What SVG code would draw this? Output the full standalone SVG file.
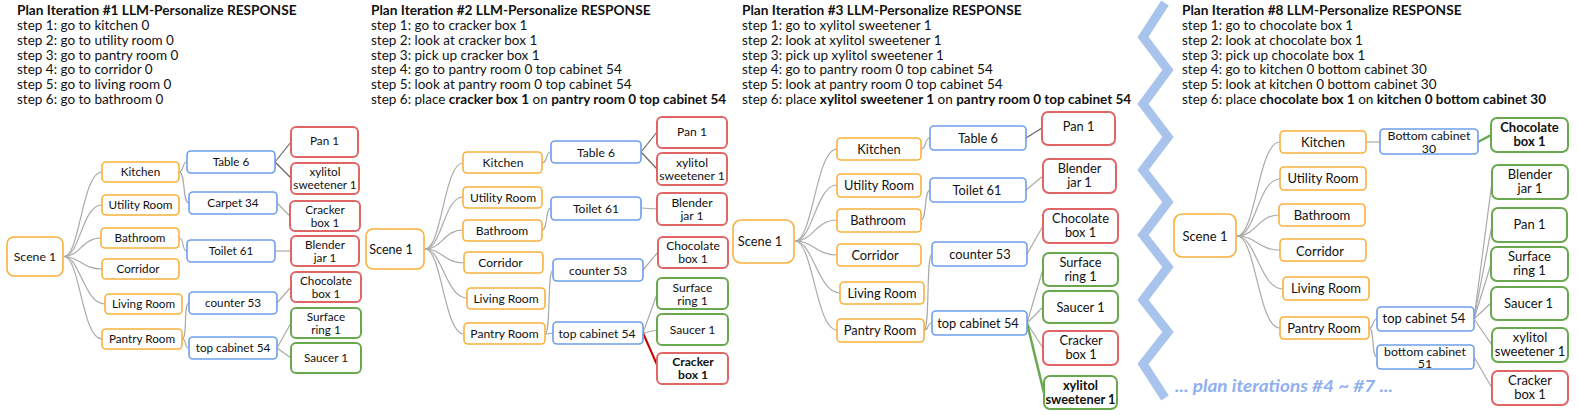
<svg xmlns="http://www.w3.org/2000/svg" width="1578" height="415" viewBox="0 0 1578 415">
<style>
text{font-family:"Lato","Noto Sans",sans-serif;fill:#111}
.ttl{font-weight:bold;font-size:13.7px}
.st{font-size:13.5px}
.b{font-weight:bold}
.n text{text-anchor:middle}
.o rect{fill:#fff;stroke:#f9b13c;stroke-width:1.6}
.u rect{fill:#fff;stroke:#6d9eeb;stroke-width:1.6}
.r rect{fill:#fff;stroke:#e06666;stroke-width:2}
.g rect{fill:#fff;stroke:#6aa84f;stroke-width:2}
.cn path{fill:none;stroke:#aaa;stroke-width:1.2}
.cn path.dk{stroke:#666}
.cn path.red{stroke:#cc0000;stroke-width:2}
.cn path.grn{stroke:#6aa84f;stroke-width:2.5}
.p1{font-size:11.7px}.p2{font-size:12.1px}.p3{font-size:12.8px}.p4{font-size:13px}
</style>

<!-- headers -->
<g id="header1">
<text class="ttl" x="17" y="15">Plan Iteration #1 LLM-Personalize RESPONSE</text>
<text class="st" x="17" y="30">step 1: go to kitchen 0</text>
<text class="st" x="17" y="44.7">step 2: go to utility room 0</text>
<text class="st" x="17" y="59.5">step 3: go to pantry room 0</text>
<text class="st" x="17" y="74.2">step 4: go to corridor 0</text>
<text class="st" x="17" y="89">step 5: go to living room 0</text>
<text class="st" x="17" y="103.7">step 6: go to bathroom 0</text>
</g>
<g id="header2">
<text class="ttl" x="371" y="15">Plan Iteration #2 LLM-Personalize RESPONSE</text>
<text class="st" x="371" y="30">step 1: go to cracker box 1</text>
<text class="st" x="371" y="44.7">step 2: look at cracker box 1</text>
<text class="st" x="371" y="59.5">step 3: pick up cracker box 1</text>
<text class="st" x="371" y="74.2">step 4: go to pantry room 0 top cabinet 54</text>
<text class="st" x="371" y="89">step 5: look at pantry room 0 top cabinet 54</text>
<text class="st" x="371" y="103.7">step 6: place <tspan class="b">cracker box 1</tspan> on <tspan class="b">pantry room 0 top cabinet 54</tspan></text>
</g>
<g id="header3">
<text class="ttl" x="742" y="15">Plan Iteration #3 LLM-Personalize RESPONSE</text>
<text class="st" x="742" y="30">step 1: go to xylitol sweetener 1</text>
<text class="st" x="742" y="44.7">step 2: look at xylitol sweetener 1</text>
<text class="st" x="742" y="59.5">step 3: pick up xylitol sweetener 1</text>
<text class="st" x="742" y="74.2">step 4: go to pantry room 0 top cabinet 54</text>
<text class="st" x="742" y="89">step 5: look at pantry room 0 top cabinet 54</text>
<text class="st" x="742" y="103.7">step 6: place <tspan class="b">xylitol sweetener 1</tspan> on <tspan class="b">pantry room 0 top cabinet 54</tspan></text>
</g>
<g id="header4">
<text class="ttl" x="1182" y="15">Plan Iteration #8 LLM-Personalize RESPONSE</text>
<text class="st" x="1182" y="30">step 1: go to chocolate box 1</text>
<text class="st" x="1182" y="44.7">step 2: look at chocolate box 1</text>
<text class="st" x="1182" y="59.5">step 3: pick up chocolate box 1</text>
<text class="st" x="1182" y="74.2">step 4: go to kitchen 0 bottom cabinet 30</text>
<text class="st" x="1182" y="89">step 5: look at kitchen 0 bottom cabinet 30</text>
<text class="st" x="1182" y="103.7">step 6: place <tspan class="b">chocolate box 1</tspan> on <tspan class="b">kitchen 0 bottom cabinet 30</tspan></text>
</g>

<!-- zigzag separator -->
<g id="separator">
<polyline points="1165,3 1143,37 1168,70 1143,104 1168,137 1143,170 1168,202 1143,235 1168,267 1143,300 1168,332 1143,364 1165,398" fill="none" stroke="#a9c4ec" stroke-width="9" stroke-linejoin="miter"/>
<text x="1175" y="392" textLength="218" lengthAdjust="spacingAndGlyphs" style="font-size:17px;font-weight:bold;font-style:italic;fill:#8fb0f0">... plan iterations #4 ~ #7 ...</text>
</g>

<!-- connectors -->
<g id="connectors" class="cn">
<!-- panel 1 -->
<path d="M64,256.5 C80,256.5 82,172 102,172"/>
<path d="M64,256.5 C80,256.5 82,205 102,205"/>
<path d="M64,256.5 C80,256.5 82,238 101,238"/>
<path d="M64,256.5 C80,256.5 82,269 102,269"/>
<path d="M64,256.5 C80,256.5 84,304 105,304"/>
<path d="M64,256.5 C80,256.5 82,339 102,339"/>
<path d="M179,172 C184,172 182,162 187,162"/>
<path d="M179,172 C186,172 182,203 189,203"/>
<path d="M179,238 C185,238 181,251 187,251"/>
<path d="M182,339 C188,339 183,303 189,303"/>
<path d="M182,339 C188,339 183,348 189,348"/>
<path class="dk" d="M275,162 L291,142"/>
<path class="dk" d="M275,162 L291,178"/>
<path d="M277,203 L290,216"/>
<path d="M275,251 L291,251"/>
<path d="M277,303 L291,287"/>
<path d="M277,348 L291,323"/>
<path d="M277,348 L291,358"/>
<!-- panel 2 -->
<path d="M425,249 C442,249 444,163 463,163"/>
<path d="M425,249 C442,249 444,197 463,197"/>
<path d="M425,249 C442,249 444,230 463,230"/>
<path d="M425,249 C442,249 444,263 464,263"/>
<path d="M425,249 C442,249 446,298 467,298"/>
<path d="M425,249 C442,249 444,334 464,334"/>
<path d="M542,163 C548,163 545,152 551,152"/>
<path d="M542,230 C548,230 545,208 551,208"/>
<path d="M545,334 C551,334 547,270 553,270"/>
<path d="M545,334 C551,334 547,333 553,333"/>
<path class="dk" d="M641,152 L657,132"/>
<path class="dk" d="M641,152 L657,169"/>
<path d="M641,208 L657,209"/>
<path d="M643,270 L658,252"/>
<path d="M643,333 L657,294"/>
<path d="M643,333 L657,330"/>
<path class="red" d="M643,333 L658,367"/>
<!-- panel 3 -->
<path d="M795,241 C813,241 816,149 837,149"/>
<path d="M795,241 C813,241 816,185 837,185"/>
<path d="M795,241 C813,241 816,220 837,220"/>
<path d="M795,241 C813,241 816,255 837,255"/>
<path d="M795,241 C813,241 818,293 840,293"/>
<path d="M795,241 C813,241 816,330 837,330"/>
<path d="M921,149 C927,149 924,138 930,138"/>
<path d="M921,220 C927,220 924,190 930,190"/>
<path d="M924,330 C930,330 926,254 932,254"/>
<path d="M924,330 C930,330 926,323 932,323"/>
<path class="dk" d="M1026,138 L1042,128"/>
<path d="M1026,190 L1043,176"/>
<path d="M1027,254 L1043,226"/>
<path d="M1027,323 L1043,269"/>
<path d="M1027,323 L1043,307"/>
<path d="M1027,323 L1043,348"/>
<path class="grn" d="M1027,323 L1044,393"/>
<!-- panel 4 -->
<path d="M1237,236 C1256,236 1258,142 1280,142"/>
<path d="M1237,236 C1256,236 1258,179 1280,179"/>
<path d="M1237,236 C1256,236 1258,215 1279,215"/>
<path d="M1237,236 C1256,236 1258,250 1280,250"/>
<path d="M1237,236 C1256,236 1260,289 1283,289"/>
<path d="M1237,236 C1256,236 1258,328 1280,328"/>
<path d="M1366,142 L1380,142"/>
<path d="M1369,328 C1374,328 1372,319 1377,319"/>
<path d="M1369,328 C1375,328 1371,357 1377,357"/>
<path class="grn" d="M1478,142 L1491,135"/>
<path d="M1474,319 L1492,182"/>
<path d="M1474,319 L1492,225"/>
<path d="M1474,319 L1491,264"/>
<path d="M1474,319 L1491,303"/>
<path d="M1474,319 L1492,345"/>
<path d="M1474,357 L1492,388"/>
</g>

<!-- ===== panel 1 nodes ===== -->
<g class="n p1">
<g id="p1-scene" class="o"><rect x="7" y="237" width="56" height="39" rx="7"/><text x="35" y="260.5" style="font-size:12.3px">Scene 1</text></g>
<g id="p1-kitchen" class="o"><rect x="102" y="162" width="77" height="20" rx="4"/><text x="140.5" y="176">Kitchen</text></g>
<g id="p1-utility" class="o"><rect x="102" y="195" width="77" height="20" rx="4"/><text x="140.5" y="209">Utility Room</text></g>
<g id="p1-bathroom" class="o"><rect x="101" y="228" width="78" height="20" rx="4"/><text x="140" y="242">Bathroom</text></g>
<g id="p1-corridor" class="o"><rect x="102" y="259" width="77" height="20" rx="4"/><text x="138" y="273">Corridor</text></g>
<g id="p1-living" class="o"><rect x="105" y="294" width="77" height="20" rx="4"/><text x="143.5" y="308">Living Room</text></g>
<g id="p1-pantry" class="o"><rect x="102" y="329" width="80" height="20" rx="4"/><text x="142" y="343">Pantry Room</text></g>
<g id="p1-table6" class="u"><rect x="187" y="151" width="88" height="22" rx="4"/><text x="231" y="166">Table 6</text></g>
<g id="p1-carpet34" class="u"><rect x="189" y="192" width="88" height="22" rx="4"/><text x="233" y="207">Carpet 34</text></g>
<g id="p1-toilet61" class="u"><rect x="187" y="240" width="88" height="22" rx="4"/><text x="231" y="255">Toilet 61</text></g>
<g id="p1-counter53" class="u"><rect x="189" y="292" width="88" height="22" rx="4"/><text x="233" y="307">counter 53</text></g>
<g id="p1-topcab54" class="u"><rect x="189" y="337" width="88" height="22" rx="4"/><text x="233" y="352">top cabinet 54</text></g>
<g id="p1-pan1" class="r"><rect x="291" y="127" width="67" height="30" rx="5"/><text x="324.5" y="145">Pan 1</text></g>
<g id="p1-xylitol" class="r"><rect x="291" y="163" width="68" height="31" rx="5"/><text x="325" y="176">xylitol</text><text x="325" y="189">sweetener 1</text></g>
<g id="p1-cracker" class="r"><rect x="290" y="201" width="70" height="30" rx="5"/><text x="325" y="214">Cracker</text><text x="325" y="227">box 1</text></g>
<g id="p1-blender" class="r"><rect x="291" y="236" width="68" height="30" rx="5"/><text x="325" y="249">Blender</text><text x="325" y="262">jar 1</text></g>
<g id="p1-chocolate" class="r"><rect x="291" y="272" width="70" height="30" rx="5"/><text x="326" y="284.5">Chocolate</text><text x="326" y="297.5">box 1</text></g>
<g id="p1-surface" class="g"><rect x="291" y="308" width="70" height="30" rx="5"/><text x="326" y="321">Surface</text><text x="326" y="334">ring 1</text></g>
<g id="p1-saucer" class="g"><rect x="291" y="343" width="70" height="30" rx="5"/><text x="326" y="362">Saucer 1</text></g>
</g>

<!-- ===== panel 2 nodes ===== -->
<g class="n p2">
<g id="p2-scene" class="o"><rect x="366" y="229" width="58" height="40" rx="7"/><text x="391" y="253.5" style="font-size:12.6px">Scene 1</text></g>
<g id="p2-kitchen" class="o"><rect x="463" y="152" width="79" height="21" rx="4"/><text x="503" y="167">Kitchen</text></g>
<g id="p2-utility" class="o"><rect x="463" y="187" width="79" height="21" rx="4"/><text x="503" y="202">Utility Room</text></g>
<g id="p2-bathroom" class="o"><rect x="463" y="220" width="79" height="21" rx="4"/><text x="502" y="235">Bathroom</text></g>
<g id="p2-corridor" class="o"><rect x="464" y="252" width="79" height="21" rx="4"/><text x="500.5" y="267">Corridor</text></g>
<g id="p2-living" class="o"><rect x="467" y="288" width="78" height="21" rx="4"/><text x="506" y="303">Living Room</text></g>
<g id="p2-pantry" class="o"><rect x="464" y="323" width="81" height="21" rx="4"/><text x="504.5" y="338">Pantry Room</text></g>
<g id="p2-table6" class="u"><rect x="551" y="141" width="90" height="22" rx="4"/><text x="596" y="156.5">Table 6</text></g>
<g id="p2-toilet61" class="u"><rect x="551" y="197" width="90" height="23" rx="4"/><text x="596" y="213">Toilet 61</text></g>
<g id="p2-counter53" class="u"><rect x="553" y="259" width="90" height="22" rx="4"/><text x="598" y="274.5">counter 53</text></g>
<g id="p2-topcab54" class="u"><rect x="553" y="322" width="90" height="22" rx="4"/><text x="597" y="337.5">top cabinet 54</text></g>
<g id="p2-pan1" class="r"><rect x="657" y="117" width="70" height="31" rx="5"/><text x="692" y="136">Pan 1</text></g>
<g id="p2-xylitol" class="r"><rect x="657" y="153" width="70" height="32" rx="5"/><text x="692" y="166.5">xylitol</text><text x="692" y="179.5">sweetener 1</text></g>
<g id="p2-blender" class="r"><rect x="657" y="193" width="70" height="32" rx="5"/><text x="692" y="206.5">Blender</text><text x="692" y="219.5">jar 1</text></g>
<g id="p2-chocolate" class="r"><rect x="658" y="237" width="70" height="31" rx="5"/><text x="693" y="250">Chocolate</text><text x="693" y="263">box 1</text></g>
<g id="p2-surface" class="g"><rect x="657" y="278" width="71" height="31" rx="5"/><text x="692.5" y="291.5">Surface</text><text x="692.5" y="304.5">ring 1</text></g>
<g id="p2-saucer" class="g"><rect x="657" y="314" width="71" height="31" rx="5"/><text x="692.5" y="334">Saucer 1</text></g>
<g id="p2-cracker" class="r"><rect x="657" y="353" width="71" height="31" rx="5"/><text class="b" x="693" y="366">Cracker</text><text class="b" x="693" y="379">box 1</text></g>
</g>

<!-- ===== panel 3 nodes ===== -->
<g class="n p3">
<g id="p3-scene" class="o"><rect x="733" y="220" width="61" height="43" rx="8"/><text x="760" y="246">Scene 1</text></g>
<g id="p3-kitchen" class="o"><rect x="837" y="138" width="84" height="22" rx="4"/><text x="879" y="153.5">Kitchen</text></g>
<g id="p3-utility" class="o"><rect x="837" y="174" width="84" height="23" rx="4"/><text x="879" y="190">Utility Room</text></g>
<g id="p3-bathroom" class="o"><rect x="837" y="209" width="84" height="23" rx="4"/><text x="878" y="225">Bathroom</text></g>
<g id="p3-corridor" class="o"><rect x="837" y="244" width="84" height="22" rx="4"/><text x="875" y="260">Corridor</text></g>
<g id="p3-living" class="o"><rect x="840" y="282" width="84" height="22" rx="4"/><text x="882" y="297.5">Living Room</text></g>
<g id="p3-pantry" class="o"><rect x="837" y="319" width="87" height="23" rx="4"/><text x="880" y="335">Pantry Room</text></g>
<g id="p3-table6" class="u"><rect x="930" y="126" width="96" height="24" rx="4"/><text x="978" y="142.5">Table 6</text></g>
<g id="p3-toilet61" class="u"><rect x="930" y="178" width="96" height="24" rx="4"/><text x="977" y="194.5">Toilet 61</text></g>
<g id="p3-counter53" class="u"><rect x="932" y="242" width="95" height="24" rx="4"/><text x="980" y="258.5">counter 53</text></g>
<g id="p3-topcab54" class="u"><rect x="932" y="311" width="95" height="24" rx="4"/><text x="978" y="327.5">top cabinet 54</text></g>
<g id="p3-pan1" class="r"><rect x="1042" y="112" width="73" height="33" rx="6"/><text x="1078.5" y="131">Pan 1</text></g>
<g id="p3-blender" class="r"><rect x="1043" y="159" width="73" height="34" rx="6"/><text x="1079.5" y="173">Blender</text><text x="1079.5" y="187">jar 1</text></g>
<g id="p3-chocolate" class="r"><rect x="1043" y="209" width="75" height="34" rx="6"/><text x="1080.5" y="222.5">Chocolate</text><text x="1080.5" y="236.5">box 1</text></g>
<g id="p3-surface" class="g"><rect x="1043" y="253" width="75" height="33" rx="6"/><text x="1080.5" y="267">Surface</text><text x="1080.5" y="281">ring 1</text></g>
<g id="p3-saucer" class="g"><rect x="1043" y="291" width="75" height="32" rx="6"/><text x="1080.5" y="312">Saucer 1</text></g>
<g id="p3-cracker" class="r"><rect x="1043" y="331" width="75" height="34" rx="6"/><text x="1081" y="345">Cracker</text><text x="1081" y="359">box 1</text></g>
<g id="p3-xylitol" class="g"><rect x="1044" y="376" width="73" height="33" rx="6"/><text class="b" x="1080.5" y="390">xylitol</text><text class="b" x="1080.5" y="404">sweetener 1</text></g>
</g>

<!-- ===== panel 4 nodes ===== -->
<g class="n p4">
<g id="p4-scene" class="o"><rect x="1174" y="214" width="62" height="43" rx="8"/><text x="1205" y="240.5">Scene 1</text></g>
<g id="p4-kitchen" class="o"><rect x="1280" y="131" width="86" height="22" rx="4"/><text x="1323" y="146.5">Kitchen</text></g>
<g id="p4-utility" class="o"><rect x="1280" y="167" width="86" height="23" rx="4"/><text x="1323" y="183">Utility Room</text></g>
<g id="p4-bathroom" class="o"><rect x="1279" y="204" width="86" height="22" rx="4"/><text x="1322" y="219.5">Bathroom</text></g>
<g id="p4-corridor" class="o"><rect x="1280" y="239" width="86" height="22" rx="4"/><text x="1320" y="256">Corridor</text></g>
<g id="p4-living" class="o"><rect x="1283" y="277" width="86" height="23" rx="4"/><text x="1326" y="293">Living Room</text></g>
<g id="p4-pantry" class="o"><rect x="1280" y="317" width="89" height="22" rx="4"/><text x="1324" y="332.5">Pantry Room</text></g>
<g id="p4-bottomcab30" class="u"><rect x="1380" y="129" width="98" height="25" rx="4"/><text x="1429" y="140" style="font-size:12.3px">Bottom cabinet</text><text x="1429" y="152.5" style="font-size:12.3px">30</text></g>
<g id="p4-topcab54" class="u"><rect x="1377" y="307" width="97" height="24" rx="4"/><text x="1424" y="323">top cabinet 54</text></g>
<g id="p4-bottomcab51" class="u"><rect x="1377" y="345" width="97" height="24" rx="4"/><text x="1425" y="355.5" style="font-size:12.3px">bottom cabinet</text><text x="1425" y="368" style="font-size:12.3px">51</text></g>
<g id="p4-chocolate" class="g"><rect x="1491" y="118" width="77" height="34" rx="6"/><text class="b" x="1529.5" y="132">Chocolate</text><text class="b" x="1529.5" y="146">box 1</text></g>
<g id="p4-blender" class="g"><rect x="1492" y="165" width="76" height="34" rx="6"/><text x="1530" y="179">Blender</text><text x="1530" y="193">jar 1</text></g>
<g id="p4-pan1" class="g"><rect x="1492" y="208" width="75" height="34" rx="6"/><text x="1529.5" y="229">Pan 1</text></g>
<g id="p4-surface" class="g"><rect x="1491" y="247" width="77" height="34" rx="6"/><text x="1529.5" y="261">Surface</text><text x="1529.5" y="275">ring 1</text></g>
<g id="p4-saucer" class="g"><rect x="1491" y="287" width="77" height="33" rx="6"/><text x="1528.5" y="308">Saucer 1</text></g>
<g id="p4-xylitol" class="g"><rect x="1492" y="328" width="76" height="34" rx="6"/><text x="1530" y="342">xylitol</text><text x="1530" y="356">sweetener 1</text></g>
<g id="p4-cracker" class="r"><rect x="1492" y="371" width="76" height="34" rx="6"/><text x="1530" y="385">Cracker</text><text x="1530" y="399">box 1</text></g>
</g>
</svg>
